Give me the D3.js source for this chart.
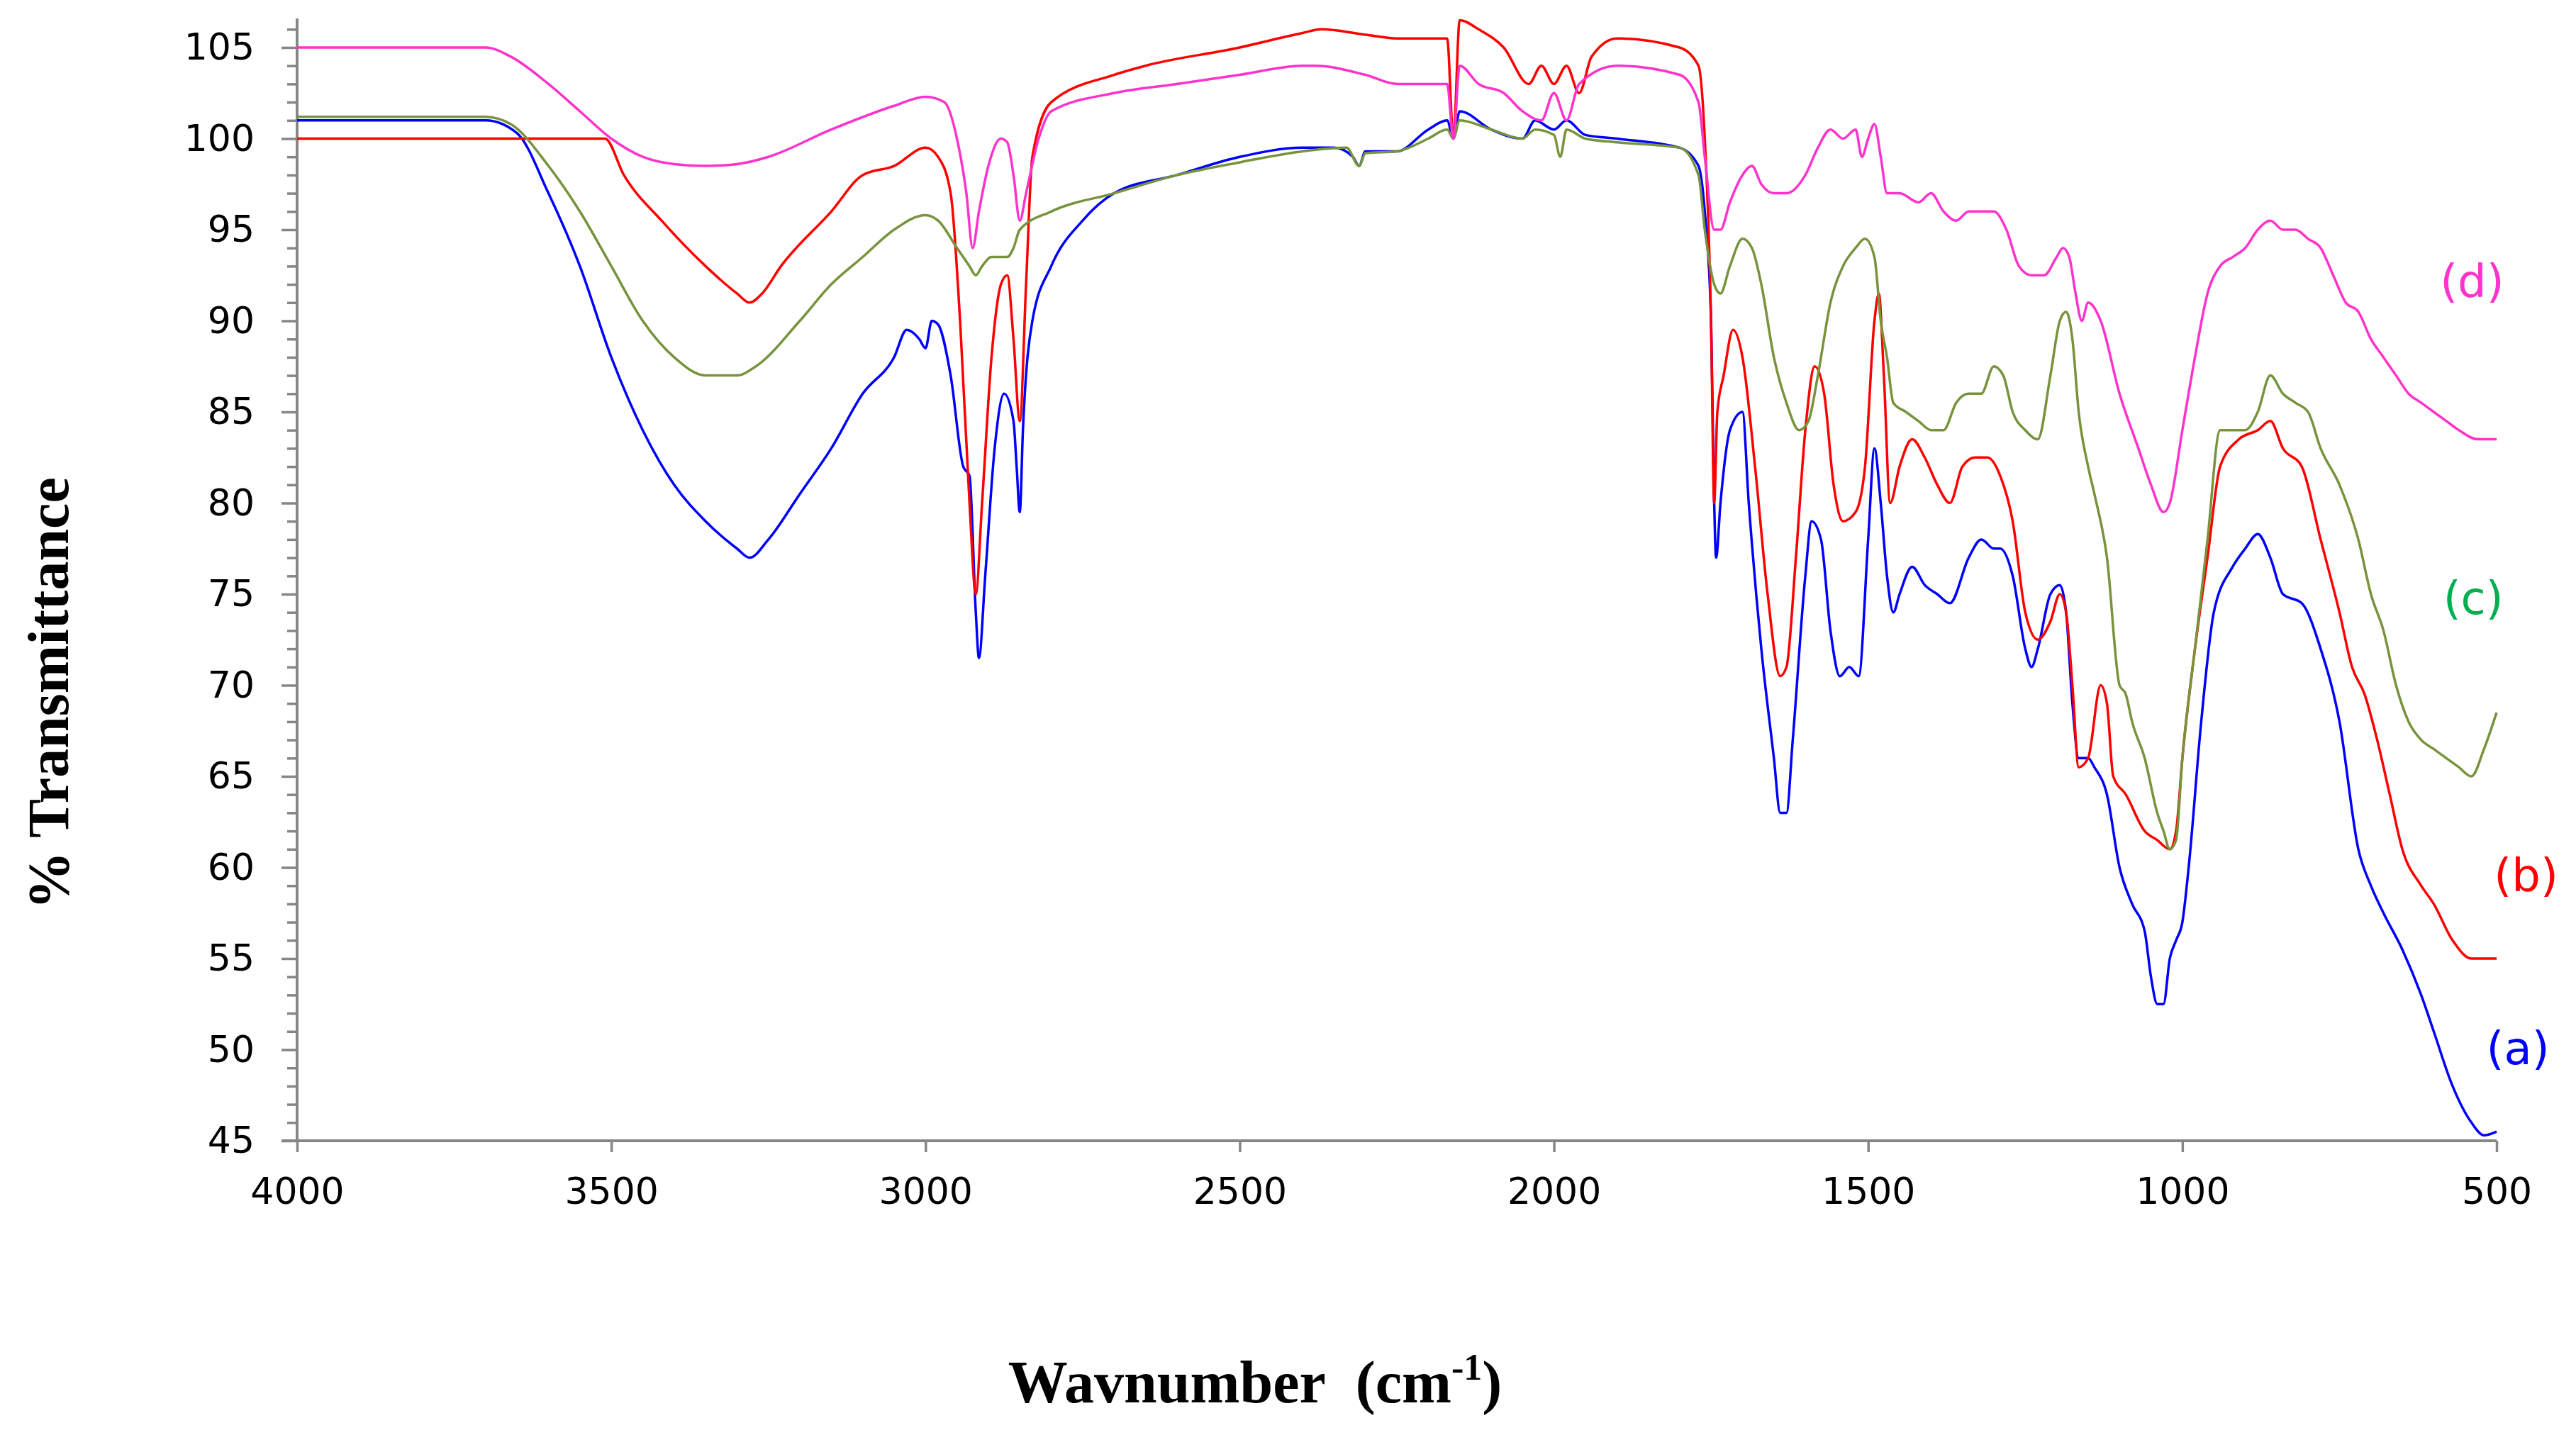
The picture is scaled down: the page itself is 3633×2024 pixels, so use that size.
<!DOCTYPE html>
<html><head><meta charset="utf-8">
<script src="https://cdn.jsdelivr.net/npm/d3@7"></script>
<style>body{margin:0;background:#fff}</style></head>
<body><svg id="c" width="3633" height="2024"></svg>
<script>
const xTicks=[4000,3500,3000,2500,2000,1500,1000,500];
const yTicks=[45,50,55,60,65,70,75,80,85,90,95,100,105];
const seriesNames=["(a)","(b)","(c)","(d)"];
const seriesColors=["#0000ff","#ff0000","#77933c","#ff33cc"];
const labelColors=["#0000ff","#ff0000","#00b050","#ff33cc"];
const labelAnchors=[[466,49.2],[453,58.7],[537,73.9],[539,91.3]];
const seriesA=[[4000,101],[3700,101],[3650,100.3],[3600,97],[3550,93],[3500,88],[3450,84],[3400,81],[3350,79],[3300,77.5],[3280,77],[3250,78],[3200,80.5],[3150,83],[3100,86],[3050,88],[3030,89.5],[3010,89],[3000,88.5],[2990,90],[2980,89.8],[2960,87],[2940,82],[2930,81.5],[2920,74],[2915,71.5],[2905,76],[2890,83],[2875,86],[2860,84.5],[2855,82],[2850,79.5],[2845,84],[2830,90],[2800,93],[2750,95.5],[2700,97],[2600,98],[2500,99],[2400,99.5],[2350,99.5],[2320,99],[2310,98.5],[2300,99.3],[2250,99.3],[2200,100.5],[2170,101],[2160,100],[2150,101.5],[2100,100.5],[2050,100],[2030,101],[2000,100.5],[1980,101],[1950,100.2],[1900,100],[1800,99.5],[1770,98.5],[1760,96],[1750,90],[1745,80],[1742,77],[1735,80],[1720,84],[1700,85],[1690,80],[1670,72],[1650,66],[1640,63],[1630,63],[1620,67],[1600,76],[1590,79],[1575,78],[1560,73],[1545,70.5],[1530,71],[1515,70.5],[1500,78],[1490,83],[1480,80],[1470,76],[1460,74],[1450,75],[1430,76.5],[1410,75.5],[1390,75],[1370,74.5],[1340,77],[1320,78],[1300,77.5],[1290,77.5],[1270,76],[1250,72],[1240,71],[1230,72],[1210,75],[1195,75.5],[1185,74],[1175,69],[1165,66],[1150,66],[1140,65.5],[1120,64],[1100,60],[1080,58],[1060,56.5],[1050,54],[1040,52.5],[1030,52.5],[1020,55],[1010,56],[1000,57],[990,60],[970,68],[950,74],[920,76.5],[900,77.5],[880,78.3],[860,77],[840,75],[810,74.5],[780,72],[750,68],[720,61],[700,59],[680,57.5],[650,55.5],[620,53],[600,51],[570,48],[540,46],[520,45.3],[500,45.5]];
const seriesB=[[4000,100],[3510,100],[3480,98],[3420,95.5],[3350,93],[3300,91.5],[3280,91],[3260,91.5],[3230,93],[3150,96],[3100,98],[3050,98.5],[3000,99.5],[2980,99],[2960,97],[2945,90],[2930,80],[2920,75],[2910,80],[2895,88],[2880,92],[2870,92.5],[2860,89],[2850,84.5],[2840,92],[2830,99],[2800,102],[2700,103.5],[2650,104],[2500,105],[2400,105.8],[2370,106],[2300,105.7],[2250,105.5],[2200,105.5],[2170,105.5],[2160,100],[2150,106.5],[2120,106],[2080,105],[2040,103],[2020,104],[2000,103],[1980,104],[1960,102.5],[1940,104.5],[1900,105.5],[1800,105],[1770,104],[1760,100],[1750,90],[1745,80],[1740,85],[1730,87],[1715,89.5],[1700,88],[1680,82],[1660,75],[1640,70.5],[1630,71],[1615,77],[1600,84],[1585,87.5],[1570,86],[1555,81],[1540,79],[1520,79.5],[1505,82],[1490,90],[1483,91.5],[1475,87],[1465,80],[1450,82],[1430,83.5],[1410,82.5],[1390,81],[1370,80],[1350,82],[1330,82.5],[1310,82.5],[1290,81.5],[1270,79],[1250,74],[1230,72.5],[1210,73.5],[1195,75],[1185,74],[1175,70],[1165,65.5],[1150,66],[1130,70],[1120,69],[1110,65],[1090,64],[1060,62],[1040,61.5],[1020,61],[1010,62],[1000,66],[980,72],[960,77],[940,82],[910,83.5],[880,84],[860,84.5],[840,83],[810,82],[780,78],[750,74],[730,71],[710,69.5],[690,67],[670,64],[650,61],[620,59],[600,58],[570,56],[540,55],[500,55]];
const seriesC=[[4000,101.2],[3700,101.2],[3660,100.8],[3600,98.5],[3550,96],[3500,93],[3450,90],[3400,88],[3350,87],[3300,87],[3270,87.5],[3200,90],[3150,92],[3100,93.5],[3050,95],[3000,95.8],[2980,95.5],[2950,94],[2930,93],[2920,92.5],[2910,93],[2895,93.5],[2870,93.5],[2860,94],[2850,95],[2800,96],[2700,97],[2600,98],[2500,98.7],[2400,99.3],[2330,99.5],[2310,98.5],[2300,99.2],[2250,99.3],[2200,100],[2170,100.5],[2160,100],[2150,101],[2100,100.5],[2050,100],[2030,100.5],[2000,100.2],[1990,99],[1980,100.5],[1950,100],[1900,99.8],[1800,99.5],[1770,98],[1760,95],[1745,92],[1735,91.5],[1720,93],[1700,94.5],[1685,94],[1670,92],[1650,88],[1630,85.5],[1610,84],[1595,84.5],[1580,87],[1560,91],[1540,93],[1520,94],[1505,94.5],[1490,93.5],[1480,90],[1470,88],[1460,85.5],[1440,85],[1420,84.5],[1400,84],[1380,84],[1360,85.5],[1340,86],[1320,86],[1300,87.5],[1285,87],[1270,85],[1250,84],[1230,83.5],[1210,87],[1195,90],[1185,90.5],[1175,89],[1165,85],[1150,82],[1140,80.5],[1120,77],[1100,70],[1090,69.5],[1080,68],[1060,66],[1040,63],[1030,62],[1020,61],[1010,61.5],[1000,66],[980,72],[960,78],[940,84],[920,84],[900,84],[880,85],[860,87],[840,86],[820,85.5],[800,85],[780,83],[750,81],[720,78],[700,75],[680,73],[660,70],[640,68],[620,67],[600,66.5],[580,66],[560,65.5],[540,65],[520,66.5],[500,68.5]];
const seriesD=[[4000,105],[3700,105],[3660,104.5],[3600,103],[3550,101.5],[3500,100],[3450,99],[3400,98.6],[3350,98.5],[3300,98.6],[3250,99],[3150,100.5],[3050,101.8],[3000,102.3],[2970,102],[2950,100],[2935,97],[2925,94],[2915,96],[2900,98.5],[2880,100],[2870,99.8],[2860,98],[2850,95.5],[2840,97],[2820,100],[2800,101.5],[2700,102.5],[2600,103],[2500,103.5],[2400,104],[2380,104],[2300,103.5],[2250,103],[2200,103],[2170,103],[2160,100],[2150,104],[2120,103],[2080,102.5],[2050,101.5],[2020,101],[2000,102.5],[1980,101],[1960,103],[1900,104],[1800,103.5],[1770,102],[1760,99],[1745,95],[1735,95],[1720,96.5],[1700,98],[1685,98.5],[1670,97.5],[1650,97],[1630,97],[1600,98],[1580,99.5],[1560,100.5],[1540,100],[1520,100.5],[1510,99],[1500,100],[1490,100.8],[1480,99],[1470,97],[1450,97],[1420,96.5],[1400,97],[1380,96],[1360,95.5],[1340,96],[1320,96],[1300,96],[1280,95],[1260,93],[1240,92.5],[1220,92.5],[1200,93.5],[1190,94],[1180,93.5],[1170,91.5],[1160,90],[1150,91],[1130,90],[1100,86],[1070,83],[1050,81],[1030,79.5],[1020,80],[1000,84],[980,88],[960,91.5],[940,93],[920,93.5],[900,94],[880,95],[860,95.5],[840,95],[820,95],[800,94.5],[780,94],[760,92.5],[740,91],[720,90.5],[700,89],[680,88],[660,87],[640,86],[620,85.5],[600,85],[580,84.5],[560,84],[530,83.5],[500,83.5]];
const allSeries=[seriesA,seriesB,seriesC,seriesD];

const svg=d3.select("#c");
const L=419,R=3521,T=67,B=1609;
const x=d3.scaleLinear().domain([4000,500]).range([L,R]);
const y=d3.scaleLinear().domain([45,105]).range([B,T]);
const axisCol="#868686";
svg.append("line").attr("x1",L).attr("x2",L).attr("y1",y(106.6)).attr("y2",B).attr("stroke",axisCol).attr("stroke-width",4);
const yAx=svg.append("g").attr("transform",`translate(${L},0)`)
 .call(d3.axisLeft(y).tickValues(d3.range(45,107,1)).tickSize(0).tickFormat(""));
yAx.select(".domain").remove();
yAx.selectAll(".tick line").attr("x2",d=>d%5===0?-22:-14).attr("stroke",axisCol).attr("stroke-width",3.5);
const yLab=svg.append("g").attr("transform",`translate(${L},0)`)
 .call(d3.axisLeft(y).tickValues(yTicks).tickSize(0).tickPadding(60).tickFormat(d3.format("d")));
yLab.select(".domain").remove();
yLab.selectAll("text").attr("font-family","DejaVu Sans").attr("font-size",52).attr("fill","#000");
const xAx=svg.append("g").attr("transform",`translate(0,${B})`)
 .call(d3.axisBottom(x).tickValues(xTicks).tickSize(16).tickPadding(36).tickFormat(d3.format("d")));
xAx.select(".domain").attr("stroke",axisCol).attr("stroke-width",4).attr("d",`M${L-22},0H${R}`);
xAx.selectAll(".tick line").attr("stroke",axisCol).attr("stroke-width",3.5);
xAx.selectAll("text").attr("font-family","DejaVu Sans").attr("font-size",52).attr("fill","#000");

const line=d3.line().x(d=>x(d[0])).y(d=>y(d[1])).curve(d3.curveMonotoneX);
allSeries.forEach((s,i)=>{
 svg.append("path").datum(s).attr("d",line).attr("fill","none").attr("stroke",seriesColors[i]).attr("stroke-width",3.5).attr("stroke-linejoin","round");
});
seriesNames.forEach((n,i)=>{
 svg.append("text").attr("x",x(labelAnchors[i][0])).attr("y",y(labelAnchors[i][1])).attr("text-anchor","middle")
  .attr("font-family","DejaVu Sans").attr("font-size",64).attr("fill",labelColors[i]).text(n);
});
const xt=svg.append("text").attr("x",1770).attr("y",1978).attr("text-anchor","middle").attr("xml:space","preserve")
 .attr("font-family","Liberation Serif").attr("font-weight","bold").attr("font-size",84).attr("fill","#000");
xt.append("tspan").text("Wavnumber\u00a0\u00a0(cm");
xt.append("tspan").attr("dy",-32).attr("font-size",52).text("-1");
xt.append("tspan").attr("dy",32).text(")");
svg.append("text").attr("transform","translate(96,978) rotate(-90)").attr("text-anchor","middle")
 .attr("font-family","Liberation Serif").attr("font-weight","bold").attr("font-size",82).attr("fill","#000").text("% Transmittance");
</script></body></html>
